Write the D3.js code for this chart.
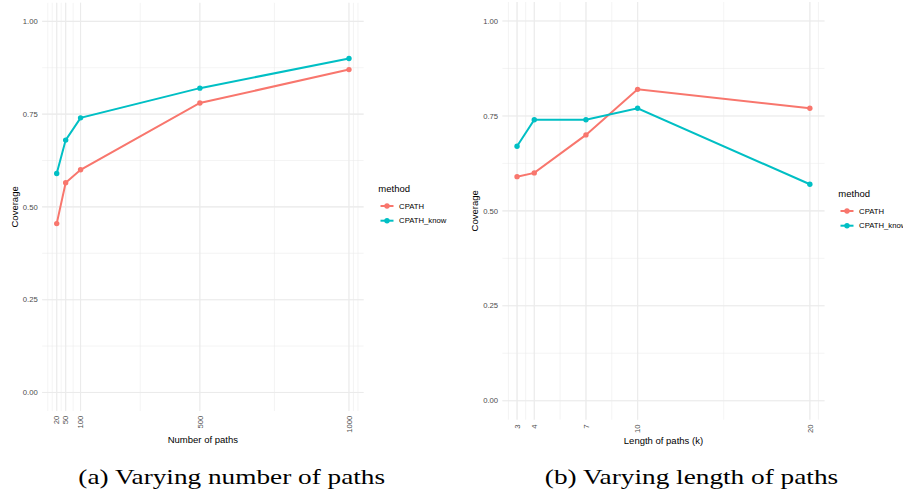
<!DOCTYPE html>
<html>
<head>
<meta charset="utf-8">
<script src="https://cdn.jsdelivr.net/npm/d3@7"></script>
<style>
  body { margin: 0; background: #fff; }
  svg { display: block; font-family: 'Liberation Sans', Arial, sans-serif; }
  .grid-major { stroke: #ebebeb; stroke-width: 1.07; }
  .grid-minor { stroke: #ebebeb; stroke-width: 0.53; }
  .tick-label { fill: #4d4d4d; font-size: 7.7px; }
  .axis-title { fill: #000; font-size: 9.5px; }
  .legend-title { fill: #000; font-size: 9.5px; }
  .legend-label { fill: #000; font-size: 7.7px; }
  .caption { fill: #000; font-family: 'Liberation Serif', 'DejaVu Serif', serif; font-size: 21.5px; }
</style>
</head>
<body>
<svg id="chart" width="903" height="496"></svg>
<script>
// data
const methods = ['CPATH', 'CPATH_know']
const methodColors = ['#F8766D', '#00BFC4']
const coverageTicks = [0, 0.25, 0.5, 0.75, 1]

const numPaths = [20, 50, 100, 500, 1000]
const coverageByNumCpath = [0.455, 0.565, 0.60, 0.78, 0.87]
const coverageByNumKnow = [0.59, 0.68, 0.74, 0.82, 0.90]

const pathLength = [3, 4, 7, 10, 20]
const coverageByLenCpath = [0.59, 0.60, 0.70, 0.82, 0.77]
const coverageByLenKnow = [0.67, 0.74, 0.74, 0.77, 0.57]

const svg = d3.select('#chart')

// ggplot-like 5% expansion
function expand (ext) {
  let d = (ext[1] - ext[0]) * 0.05
  return [ext[0] - d, ext[1] + d]
}

// minor grid the way ggplot places it: midpoints, breaks extended by the first gap
function minorBreaks (breaks, lim) {
  let b = breaks.slice()
  let bd = b[1] - b[0]
  if (lim[0] < b[0]) b.unshift(b[0] - bd)
  if (lim[1] > b[b.length - 1]) b.push(b[b.length - 1] + bd)
  let out = []
  for (let i = 0; i < b.length - 1; i++) out.push(b[i], (b[i] + b[i + 1]) / 2)
  out.push(b[b.length - 1])
  return out.filter((v) => v >= lim[0] && v <= lim[1])
}

function drawPanel (cfg) {
  let g = svg.append('g')
  let xDom = expand(d3.extent(cfg.xs))
  let yDom = expand([0, 1])
  let x = d3.scaleLinear().domain(xDom).range([cfg.left, cfg.right])
  let y = d3.scaleLinear().domain(yDom).range([cfg.bottom, cfg.top])

  let xMinor = minorBreaks(cfg.xs, xDom)
  let yMinor = minorBreaks(coverageTicks, yDom)

  // grid
  g.selectAll('.ymin').data(yMinor).enter().append('line')
    .attr('class', 'grid-minor')
    .attr('x1', cfg.left).attr('x2', cfg.right)
    .attr('y1', (d) => y(d)).attr('y2', (d) => y(d))
  g.selectAll('.xmin').data(xMinor).enter().append('line')
    .attr('class', 'grid-minor')
    .attr('y1', cfg.top).attr('y2', cfg.bottom)
    .attr('x1', (d) => x(d)).attr('x2', (d) => x(d))
  g.selectAll('.ymaj').data(coverageTicks).enter().append('line')
    .attr('class', 'grid-major')
    .attr('x1', cfg.left).attr('x2', cfg.right)
    .attr('y1', (d) => y(d)).attr('y2', (d) => y(d))
  g.selectAll('.xmaj').data(cfg.xs).enter().append('line')
    .attr('class', 'grid-major')
    .attr('y1', cfg.top).attr('y2', cfg.bottom)
    .attr('x1', (d) => x(d)).attr('x2', (d) => x(d))

  // tick labels
  g.selectAll('.ylab').data(coverageTicks).enter().append('text')
    .attr('class', 'tick-label')
    .attr('x', cfg.left - 4.3)
    .attr('y', (d) => y(d))
    .attr('dy', '0.35em')
    .attr('text-anchor', 'end')
    .text((d) => d3.format('.2f')(d))
  g.selectAll('.xlab').data(cfg.xs).enter().append('text')
    .attr('class', 'tick-label')
    .attr('transform', (d) => 'translate(' + x(d) + ',' + (cfg.bottom + 4.7) + ')rotate(-90)')
    .attr('dy', '0.35em')
    .attr('text-anchor', 'end')
    .text((d) => d)

  // axis titles
  g.append('text')
    .attr('class', 'axis-title')
    .attr('x', (cfg.left + cfg.right) / 2)
    .attr('y', cfg.xTitleY)
    .attr('text-anchor', 'middle')
    .text(cfg.xTitle)
  g.append('text')
    .attr('class', 'axis-title')
    .attr('transform', 'translate(' + cfg.yTitleX + ',' + (cfg.top + cfg.bottom) / 2 + ')rotate(-90)')
    .attr('text-anchor', 'middle')
    .text('Coverage')

  // series
  let line = d3.line().x((d) => x(d[0])).y((d) => y(d[1]))
  cfg.series.forEach((vals, i) => {
    let pts = cfg.xs.map((v, j) => [v, vals[j]])
    g.append('path')
      .attr('d', line(pts))
      .attr('fill', 'none')
      .attr('stroke', methodColors[i])
      .attr('stroke-width', 2)
    g.selectAll('.pt' + i).data(pts).enter().append('circle')
      .attr('cx', (d) => x(d[0]))
      .attr('cy', (d) => y(d[1]))
      .attr('r', 2.7)
      .attr('fill', methodColors[i])
  })

  // legend (the right one runs off the page, as in the original figure)
  let lg = g.append('g').attr('transform', 'translate(' + cfg.legendX + ',' + cfg.legendY + ')')
  lg.append('text')
    .attr('class', 'legend-title')
    .attr('x', 0).attr('y', 0).attr('dy', '0.35em')
    .text('method')
  methods.forEach((m, i) => {
    let ky = 17 + i * 14.7
    lg.append('line')
      .attr('x1', 2.2).attr('x2', 15.2)
      .attr('y1', ky).attr('y2', ky)
      .attr('stroke', methodColors[i]).attr('stroke-width', 2)
    lg.append('circle')
      .attr('cx', 8.7).attr('cy', ky).attr('r', 2.7)
      .attr('fill', methodColors[i])
    lg.append('text')
      .attr('class', 'legend-label')
      .attr('x', 20.8).attr('y', ky).attr('dy', '0.35em')
      .text(m)
  })

  // caption
  svg.append('text')
    .attr('class', 'caption')
    .attr('x', cfg.captionX)
    .attr('y', 484.3)
    .attr('text-anchor', 'middle')
    .attr('textLength', cfg.captionW)
    .attr('lengthAdjust', 'spacingAndGlyphs')
    .text(cfg.caption)
}

drawPanel({
  xs: numPaths,
  series: [coverageByNumCpath, coverageByNumKnow],
  left: 42.1, right: 363.6, top: 2.8, bottom: 411,
  xTitle: 'Number of paths', xTitleY: 442.8, yTitleX: 17.6,
  legendX: 378.3, legendY: 189,
  caption: '(a) Varying number of paths', captionX: 231.7, captionW: 306.7
})

drawPanel({
  xs: pathLength,
  series: [coverageByLenCpath, coverageByLenKnow],
  left: 502.4, right: 824.5, top: 2, bottom: 419.7,
  xTitle: 'Length of paths (k)', xTitleY: 443.5, yTitleX: 477.6,
  legendX: 838.3, legendY: 194,
  caption: '(b) Varying length of paths', captionX: 691.5, captionW: 293.3
})
</script>
</body>
</html>
